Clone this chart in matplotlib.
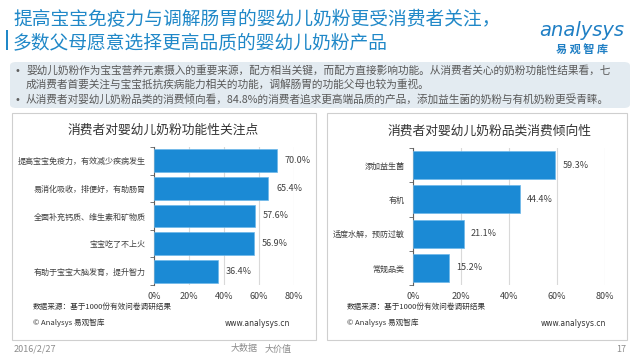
import matplotlib
matplotlib.use('Agg')
import matplotlib.pyplot as plt
from matplotlib.patches import Rectangle, FancyBboxPatch

plt.rcParams['font.family'] = ['Noto Sans CJK SC', 'DejaVu Sans']

W, H = 640, 360

title_lines = ['提高宝宝免疫力与调解肠胃的婴幼儿奶粉更受消费者关注，',
               '多数父母愿意选择更高品质的婴幼儿奶粉产品']
bullets = ['婴幼儿奶粉作为宝宝营养元素摄入的重要来源，配方相当关键，而配方直接影响功能。从消费者关心的奶粉功能性结果看，七',
           '成消费者首要关注与宝宝抵抗疾病能力相关的功能，调解肠胃的功能父母也较为重视。',
           '从消费者对婴幼儿奶粉品类的消费倾向看，84.8%的消费者追求更高端品质的产品，添加益生菌的奶粉与有机奶粉更受青睐。']

left_title = '消费者对婴幼儿奶粉功能性关注点'
left_cats = ['提高宝宝免疫力，有效减少疾病发生', '易消化吸收，排便好，有助肠胃',
             '全面补充钙质、维生素和矿物质', '宝宝吃了不上火', '有助于宝宝大脑发育，提升智力']
left_vals = [70.0, 65.4, 57.6, 56.9, 36.4]

right_title = '消费者对婴幼儿奶粉品类消费倾向性'
right_cats = ['添加益生菌', '有机', '适度水解，预防过敏', '常规品类']
right_vals = [59.3, 44.4, 21.1, 15.2]

xticks = [0, 20, 40, 60, 80]
source = '数据来源：基于1000份有效问卷调研结果'

BLUE = '#1B8AD5'
TITLE_BLUE = '#2088C8'
GRAY = '#404040'


def fx(px):
    return px / W


def fy(py):
    return 1 - py / H


fig = plt.figure(figsize=(6.4, 3.6), dpi=100)
fig.patch.set_facecolor('white')

# title
fig.add_artist(Rectangle((fx(6), fy(50)), fx(2), 20 / H, color=TITLE_BLUE, lw=0))
fig.text(fx(13), fy(20), title_lines[0], fontsize=13.5, color=TITLE_BLUE, va='center')
fig.text(fx(13), fy(44), title_lines[1], fontsize=13.5, color=TITLE_BLUE, va='center')

# logo
fig.text(fx(582), fy(30), 'analysys', fontsize=14, color='#1F7FC4', style='italic',
         ha='center', va='center', family='DejaVu Sans')
fig.text(fx(582), fy(50), '易 观 智 库', fontsize=8, color='#1F7FC4', weight='bold',
         ha='center', va='center')

# summary box
fig.add_artist(FancyBboxPatch((fx(10), fy(108)), fx(620), 46 / H,
                              boxstyle='round,pad=0,rounding_size=0.01',
                              facecolor='#E3EBF1', edgecolor='none'))
for (x, y, s, b) in [(26, 70, bullets[0], True), (26, 84, bullets[1], False),
                     (26, 99, bullets[2], True)]:
    if b:
        fig.text(fx(15), fy(y + 1), '•', fontsize=7, color='#606060', va='center',
                 family='DejaVu Sans')
    fig.text(fx(x), fy(y), s, fontsize=7.7, color='#595959', va='center')

# panel frames
for x0, x1 in [(12, 316), (327, 627)]:
    fig.add_artist(Rectangle((fx(x0), fy(340)), fx(x1 - x0), 227 / H,
                             facecolor='none', edgecolor='#CFCFCF', lw=0.8))


def draw_panel(rect, cats, vals, title, title_x, title_y, off, src_x, www_x):
    ax = fig.add_axes(rect)
    ypos = range(len(cats))
    bars = ax.barh(ypos, vals, height=0.82, color=BLUE, edgecolor='#6DB8EA', lw=0.5, zorder=3)
    ax.set_xlim(0, 80)
    ax.set_ylim(len(cats) - 0.5, -0.5)
    ax.set_xticks(xticks)
    ax.set_xticklabels(['%d%%' % t for t in xticks], fontsize=6.5, color=GRAY)
    ax.set_yticks(list(ypos))
    ax.set_yticklabels(cats, fontsize=5.8, color=GRAY)
    ax.set_yticks([i + 0.5 for i in range(-1, len(cats))], minor=True)
    ax.tick_params(axis='y', which='major', length=0, pad=6)
    ax.tick_params(axis='y', which='minor', length=3, color='#606060', direction='out')
    ax.tick_params(axis='x', length=0, pad=5)
    ax.grid(axis='x', color='#D9D9D9', lw=0.8, zorder=0)
    for s in ['top', 'right', 'bottom']:
        ax.spines[s].set_visible(False)
    ax.spines['left'].set_color('#606060')
    ax.spines['left'].set_linewidth(0.8)
    for b, v in zip(bars, vals):
        ax.annotate('%.1f%%' % v, (v, b.get_y() + b.get_height() / 2),
                    xytext=(off, 0), textcoords='offset points',
                    fontsize=6.5, color=GRAY, va='center', ha='left')
    fig.text(fx(title_x), fy(title_y), title, fontsize=9.2, color='#333333',
             ha='center', va='center')
    fig.text(fx(src_x), fy(307), source, fontsize=5.5, color='#333333', va='center')
    fig.text(fx(src_x), fy(323), '© Analysys 易观智库', fontsize=5.5, color='#333333',
             va='center')
    fig.text(fx(www_x), fy(323), 'www.analysys.cn', fontsize=5.5, color='#333333',
             ha='right', va='center', family='DejaVu Sans')
    return ax


draw_panel([fx(154), fy(285), fx(140), 138 / H], left_cats, left_vals,
           left_title, 163, 130, 6, 33, 290)
draw_panel([fx(413), fy(285), fx(192), 137 / H], right_cats, right_vals,
           right_title, 490, 131, 5, 347, 606)

# footer
fig.text(fx(14), fy(349), '2016/2/27', fontsize=6.5, color='#8C8C8C', va='center')
fig.text(fx(258), fy(349), '大数据', fontsize=6.5, color='#8C8C8C', va='center', ha='right')
fig.text(fx(265), fy(349), '大价值', fontsize=6.5, color='#8C8C8C', va='center')
fig.text(fx(626), fy(349), '17', fontsize=6.5, color='#8C8C8C', va='center', ha='right')

fig.savefig('out.png', dpi=100)
